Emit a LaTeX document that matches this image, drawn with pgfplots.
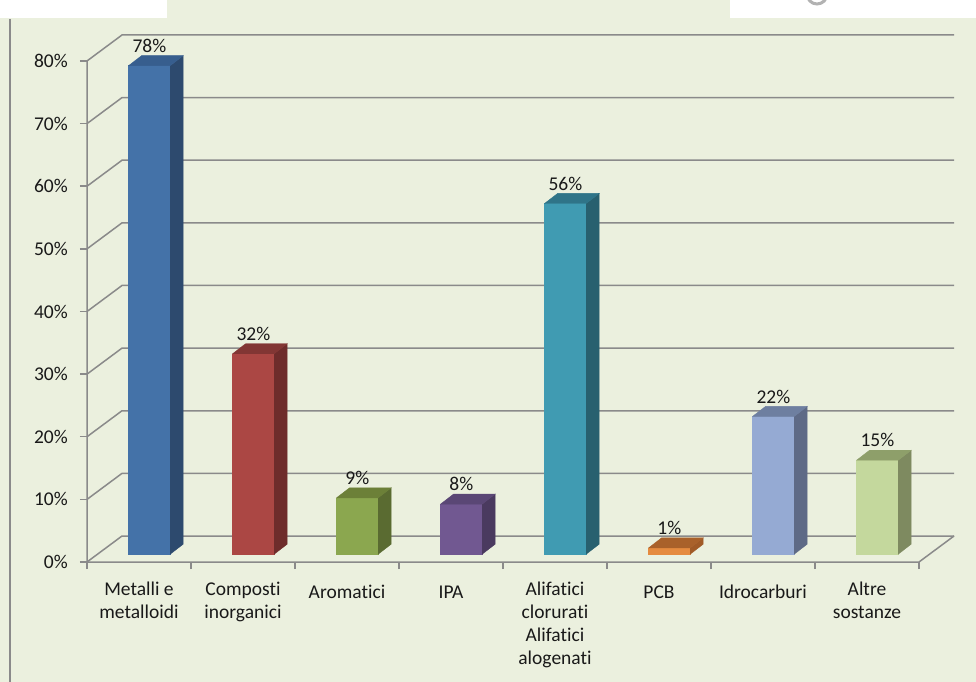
\documentclass[border=0pt]{standalone}
\usepackage{fontspec}
\setmainfont{Carlito}[Ligatures=NoCommon]
\usepackage{pgfplots}
\pgfplotsset{compat=1.18}

\definecolor{bg}{HTML}{EBF0DE}
\definecolor{gridc}{HTML}{8A8A8A}
% front / side / top of each bar
\definecolor{c1f}{HTML}{4472A8}\definecolor{c1s}{HTML}{2D4A6E}\definecolor{c1t}{HTML}{375E8E}
\definecolor{c2f}{HTML}{AB4744}\definecolor{c2s}{HTML}{6E2C2B}\definecolor{c2t}{HTML}{823634}
\definecolor{c3f}{HTML}{8BA74F}\definecolor{c3s}{HTML}{5A6B31}\definecolor{c3t}{HTML}{6C8038}
\definecolor{c4f}{HTML}{715891}\definecolor{c4s}{HTML}{4A3A5F}\definecolor{c4t}{HTML}{5A4775}
\definecolor{c5f}{HTML}{409BB2}\definecolor{c5s}{HTML}{28606F}\definecolor{c5t}{HTML}{2F7488}
\definecolor{c6f}{HTML}{E58B3F}\definecolor{c6s}{HTML}{A05A26}\definecolor{c6t}{HTML}{A9612A}
\definecolor{c7f}{HTML}{95AAD3}\definecolor{c7s}{HTML}{5E6A86}\definecolor{c7t}{HTML}{6E7FA0}
\definecolor{c8f}{HTML}{C4D89D}\definecolor{c8s}{HTML}{7E8A60}\definecolor{c8t}{HTML}{8E9F6A}

\pgfdeclareplotmark{none3d}{}

% one 3d column per data point, drawn from the point itself
\pgfplotsset{
  bar3d/.style n args={3}{
    scatter, only marks, mark=none3d,
    visualization depends on={rawy \as \rawy},
    scatter/@pre marker code/.code={
      \pgfmathsetmacro\hb{1.25-\rawy}
      \pgfmathsetmacro\hs{2.85-\rawy}
      \fill[#1] (axis direction cs:-0.1,\hb) rectangle (axis direction cs:0.3,1.25);
      \fill[#2] (axis direction cs:0.3,\hb) -- (axis direction cs:0.425,\hs)
        -- (axis direction cs:0.425,2.85) -- (axis direction cs:0.3,1.25) -- cycle;
      \fill[#3] (axis direction cs:-0.1,1.25) -- (axis direction cs:0.3,1.25)
        -- (axis direction cs:0.425,2.85) -- (axis direction cs:0.025,2.85) -- cycle;
      \pgfmathtruncatemacro\lbl{round(\rawy)}
      \node[anchor=south, inner sep=0pt, yshift=3bp] at (axis direction cs:0.1,2.85) {\lbl\%};
    },
    scatter/@post marker code/.code={},
  },
}

\begin{document}
\fontsize{19.5bp}{23bp}\selectfont
\color{black!90}
\begin{tikzpicture}
\useasboundingbox (0,0) rectangle (976bp,682bp);
\clip (0,0) rectangle (976bp,682bp);
\fill[bg] (0,0) rectangle (976bp,682bp);
\fill[white] (0,664bp) rectangle (167bp,682bp);
\fill[white] (730bp,664bp) rectangle (976bp,682bp);
\draw[gray!60, line width=3bp] (817bp,688bp) circle (10bp);
\draw[gridc, line width=2bp] (10bp,0) -- (10bp,663bp);

\begin{axis}[
    scale only axis,
    width=867bp, height=527bp,
    at={(87bp,120bp)}, anchor=south west,
    xmin=0, xmax=8.3365,
    ymin=0, ymax=84.15,
    clip=false,
    axis line style={draw=none},
    tick align=outside, tick pos=left,
    major tick length=7bp,
    tick style={gridc, line width=1.5bp},
    ytick={0,10,...,80},
    yticklabels={0\%,10\%,20\%,30\%,40\%,50\%,60\%,70\%,80\%},
    yticklabel style={anchor=east, inner sep=0pt, xshift=-12bp},
    xtick={0,1,...,8},
    x tick label as interval,
    xticklabels={{Metalli e\\metalloidi},{Composti\\inorganici},{Aromatici},{IPA},
      {Alifatici\\clorurati\\Alifatici\\alogenati},{PCB},{Idrocarburi},{Altre\\sostanze}},
    xticklabel style={align=center, anchor=north, inner sep=0pt,
      execute at begin node=\strut, yshift=-13bp},
]
% walls and floor
\pgfplotsinvokeforeach{0,10,...,80}{
  \draw[gridc, line width=1.5bp] (axis cs:0,#1) -- (axis cs:0.3365,{#1+4.15}) -- (axis cs:8.3365,{#1+4.15});
}
\draw[gridc, line width=1.5bp] (axis cs:0,80) -- (axis cs:0,0) -- (axis cs:8,0) -- (axis cs:8.3365,4.15);

\addplot[bar3d={c1f}{c1s}{c1t}] coordinates {(0.5,78)};
\addplot[bar3d={c2f}{c2s}{c2t}] coordinates {(1.5,32)};
\addplot[bar3d={c3f}{c3s}{c3t}] coordinates {(2.5,9)};
\addplot[bar3d={c4f}{c4s}{c4t}] coordinates {(3.5,8)};
\addplot[bar3d={c5f}{c5s}{c5t}] coordinates {(4.5,56)};
\addplot[bar3d={c6f}{c6s}{c6t}] coordinates {(5.5,1)};
\addplot[bar3d={c7f}{c7s}{c7t}] coordinates {(6.5,22)};
\addplot[bar3d={c8f}{c8s}{c8t}] coordinates {(7.5,15)};
\end{axis}
\end{tikzpicture}
\end{document}
